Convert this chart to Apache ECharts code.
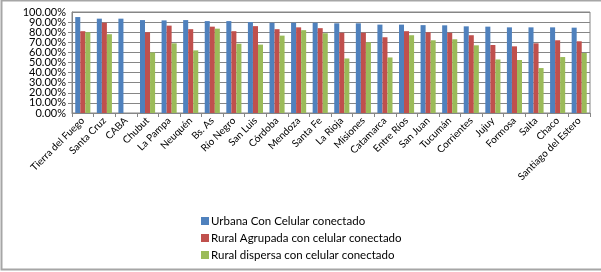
<!DOCTYPE html>
<html>
<head>
<meta charset="utf-8">
<script src="https://cdn.jsdelivr.net/npm/echarts@6/dist/echarts.min.js"></script>
<style>
  html, body { margin: 0; padding: 0; background: #fff; }
  #chart { width: 601px; height: 272px; }
</style>
</head>
<body>
<div id="chart"></div>
<script>
// provincias
var provincias = ["Tierra del Fuego", "Santa Cruz", "CABA", "Chubut", "La Pampa", "Neuquén",
  "Bs. As", "Río Negro", "San Luis", "Córdoba", "Mendoza", "Santa Fe", "La Rioja", "Misiones",
  "Catamarca", "Entre Ríos", "San Juan", "Tucumán", "Corrientes", "Jujuy", "Formosa", "Salta",
  "Chaco", "Santiago del Estero"];

var urbana = [0.95, 0.934, 0.934, 0.92, 0.917, 0.92, 0.91, 0.91, 0.90, 0.894, 0.894, 0.894,
  0.888, 0.888, 0.875, 0.875, 0.87, 0.868, 0.858, 0.855, 0.848, 0.848, 0.848, 0.845];
var ruralAgrupada = [0.81, 0.894, null, 0.80, 0.865, 0.83, 0.855, 0.81, 0.86, 0.83, 0.848, 0.84,
  0.795, 0.795, 0.75, 0.81, 0.80, 0.795, 0.77, 0.673, 0.66, 0.69, 0.72, 0.71];
var ruralDispersa = [0.80, 0.78, null, 0.60, 0.69, 0.62, 0.835, 0.686, 0.677, 0.766, 0.82, 0.79,
  0.54, 0.70, 0.55, 0.77, 0.72, 0.73, 0.67, 0.53, 0.525, 0.445, 0.554, 0.594];

var nombres = ["Urbana Con Celular conectado", "Rural Agrupada con celular conectado",
  "Rural dispersa con celular conectado"];
var colores = ["#4F81BD", "#C0504D", "#9BBB59"];

var fuente = "Lato, 'Liberation Sans', sans-serif";

var chart = echarts.init(document.getElementById("chart"), null, { renderer: "canvas" });

function serie(i, datos) {
  return {
    name: nombres[i],
    type: "bar",
    data: datos,
    barGap: "0%",
    barCategoryGap: "30%",
    itemStyle: { color: colores[i] },
    animation: false
  };
}

function pct(v) { return (v * 100).toFixed(2) + "%"; }

var etiquetaY = { fontSize: 11, color: "#000", margin: 6, fontFamily: fuente };

chart.setOption({
  animation: false,
  textStyle: { fontFamily: fuente },
  graphic: [{
    type: "rect",
    shape: { x: 1.5, y: 0.5, width: 610, height: 269 },
    style: { fill: "none", stroke: "#a6a6a6", lineWidth: 2 },
    silent: true
  }],
  grid: { left: 72, right: 11, top: 12, bottom: 159, show: true, borderColor: "#868686", borderWidth: 1 },
  legend: {
    orient: "vertical",
    left: 196,
    top: 210,
    itemWidth: 8,
    itemHeight: 8,
    itemGap: 5,
    icon: "rect",
    textStyle: { fontSize: 11.5, color: "#000", fontFamily: fuente, padding: [0, 0, 0, -3] },
    data: nombres
  },
  xAxis: {
    type: "category",
    data: provincias,
    axisLine: { lineStyle: { color: "#868686" } },
    axisTick: { show: true, length: 4, lineStyle: { color: "#868686" } },
    axisLabel: { rotate: 45, fontSize: 10, color: "#000", margin: 6, interval: 0, fontFamily: fuente }
  },
  yAxis: [{
    type: "value",
    min: 0,
    max: 1,
    interval: 0.1,
    axisLine: { show: true, lineStyle: { color: "#868686" } },
    axisTick: { show: true, length: 4, lineStyle: { color: "#868686" } },
    splitLine: { lineStyle: { color: "#868686" } },
    axisLabel: Object.assign({ showMinLabel: false, showMaxLabel: false, formatter: pct }, etiquetaY)
  }, {
    // solo 0% y 100%, para que no se oculten por solape
    type: "value",
    position: "left",
    min: 0,
    max: 1,
    interval: 0.1,
    axisLine: { show: false },
    axisTick: { show: false },
    splitLine: { show: false },
    axisLabel: Object.assign({
      showMinLabel: true, showMaxLabel: true,
      formatter: function (v) { return (v === 0 || v === 1) ? pct(v) : ""; }
    }, etiquetaY)
  }],
  series: [serie(0, urbana), serie(1, ruralAgrupada), serie(2, ruralDispersa)]
});
</script>
</body>
</html>
